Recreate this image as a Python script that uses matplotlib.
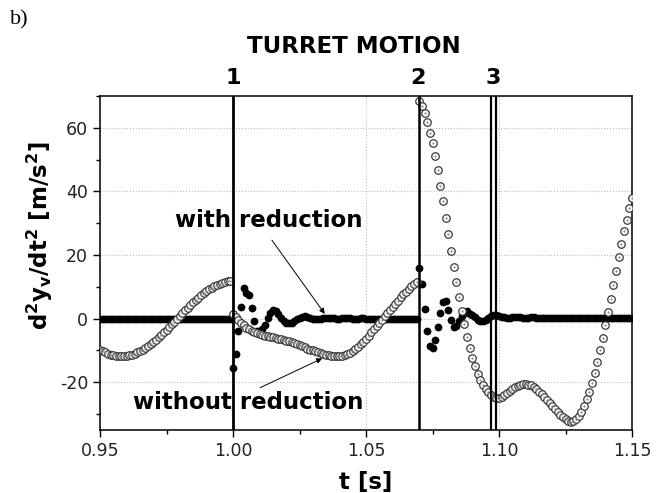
import matplotlib
matplotlib.use('Agg')
import matplotlib.pyplot as plt
import matplotlib.transforms as mtransforms
from matplotlib.ticker import MultipleLocator, FormatStrFormatter
import numpy as np

# sampling of both series (1 ms)
T_START = 0.950
DT = 0.001

# open circles: without reduction, 0.950 ... 1.150 s
without_red = [
    -9.7, -10.2, -10.6, -11.0, -11.3, -11.5, -11.7, -11.8, -11.8, -11.8,
    -11.7, -11.5, -11.3, -11.0, -10.6, -10.2, -9.7, -9.2, -8.6, -8.0,
    -7.4, -6.6, -5.9, -5.1, -4.3, -3.5, -2.6, -1.8, -0.9, 0.0,
    0.9, 1.8, 2.6, 3.5, 4.3, 5.1, 5.9, 6.6, 7.4, 8.0,
    8.6, 9.2, 9.7, 10.2, 10.6, 11.0, 11.3, 11.5, 11.7, 11.8,
    # 1.000
    1.5, 0.5, -0.5, -1.4, -2.1, -2.8, -3.4, -3.9, -4.3, -4.6,
    -4.9, -5.1, -5.3, -5.5, -5.7, -5.9, -6.1, -6.3, -6.5, -6.7,
    -6.9, -7.1, -7.4, -7.7, -8.0, -8.3, -8.7, -9.0, -9.4, -9.7,
    -10.0, -10.3, -10.6, -10.9, -11.1, -11.3, -11.5, -11.6, -11.7, -11.7,
    -11.7, -11.6, -11.4, -11.1, -10.7, -10.2, -9.6, -8.9, -8.1, -7.2,
    -6.3, -5.3, -4.3, -3.3, -2.3, -1.3, -0.3, 0.7, 1.7, 2.7,
    3.7, 4.7, 5.7, 6.7, 7.6, 8.5, 9.4, 10.2, 11.0, 11.6,
    # 1.070
    68.4, 66.9, 64.8, 61.9, 58.5, 55.1, 51.0, 46.6, 41.7, 36.9,
    31.8, 26.6, 21.4, 16.3, 11.5, 6.8, 2.3, -1.8, -5.7, -9.3,
    -12.4, -15.0, -17.3, -19.2, -20.8, -22.1, -23.2, -24.0, -24.6, -24.9,
    -24.8, -24.5, -24.0, -23.4, -22.8, -22.2, -21.6, -21.1, -20.8, -20.6,
    -20.6, -20.7, -21.0, -21.5, -22.2, -23.0, -23.8, -24.6, -25.6, -26.6,
    -27.6, -28.5, -29.4, -30.3, -31.0, -31.6, -32.1, -32.4, -32.1, -31.5,
    -30.5, -29.2, -27.5, -25.4, -23.0, -20.2, -17.1, -13.7, -10.0, -6.0,
    -1.9, 2.0, 6.3, 10.6, 15.1, 19.3, 23.4, 27.5, 31.1, 34.8,
    37.9,
]

# filled dots: with reduction, 0.950 ... 1.150 s
with_red = [0.0] * 50 + [
    # 1.000
    -15.4, -11.2, -3.8, 3.6, 9.6, 8.0, 7.5, 3.3, -0.8, -4.0,
    -4.3, -3.2, -1.9, 0.2, 1.8, 2.8, 2.5, 1.5, 0.2, -0.8,
    -1.3, -1.5, -1.3, -0.8, -0.2, 0.3, 0.6, 0.7, 0.5, 0.2,
    0.0, -0.1, -0.1, 0.0, 0.2, 0.3, 0.3, 0.2,
    0.1, 0.0, 0.0, 0.1, 0.2, 0.2, 0.1, 0.0, 0.0, 0.0,
    0.1, 0.1, 0.0, 0.0, 0.0, -0.1, -0.1, 0.0, 0.0, 0.0,
    0.0, 0.0, 0.0, 0.0, 0.0, 0.0, 0.0, 0.0, 0.0, 0.0,
    0.0, 0.0,
    # 1.070
    15.8, 10.9, 3.0, -3.8, -8.6, -9.2, -6.6, -2.6, 1.8, 5.3,
    5.6, 2.8, -0.3, -2.6, -2.2, -0.8, 0.8, 1.8, 2.3, 1.6,
    1.2, 0.4, -0.3, -0.7, -0.8, -0.4, 0.2, 0.7, 1.0, 1.1,
    0.9, 0.6,
    0.4, 0.3, 0.3, 0.4, 0.5, 0.5, 0.4, 0.3, 0.3, 0.3,
    0.4, 0.4, 0.3, 0.3, 0.2, 0.2, 0.2, 0.2, 0.2, 0.2,
    0.2, 0.2, 0.2, 0.2, 0.2, 0.2, 0.2, 0.2, 0.2, 0.2,
    0.2, 0.2, 0.2, 0.2, 0.2, 0.2, 0.2, 0.2, 0.2, 0.2,
    0.2, 0.2, 0.2, 0.2, 0.2, 0.2, 0.2, 0.2, 0.2,
]

# turret motion events
event_lines = [1.000, 1.070, 1.097, 1.099]
event_labels = ['1', '2', '3']
event_label_x = [1.000, 1.0695, 1.098]

plt.rcParams['axes.unicode_minus'] = False

t = T_START + DT * np.arange(len(without_red))

fig = plt.figure(figsize=(6.65, 4.93), dpi=100)
ax = fig.add_axes([0.1504, 0.1278, 0.800, 0.6775])

ax.plot(t, with_red, 'o', color='black', ms=5.6, mew=0, zorder=3)
ax.plot(t, without_red, 'o', mfc='white', mec='#3a3a3a', ms=5.4, mew=0.9, zorder=4)
ax.plot(t, without_red, '.', color='#888888', ms=1.2, zorder=5)

for xv, lw in zip(event_lines, [2.0, 1.8, 1.6, 1.6]):
    ax.axvline(xv, color='black', lw=lw, zorder=6)

trans = mtransforms.blended_transform_factory(ax.transData, ax.transAxes)
for xv, lab in zip(event_label_x, event_labels):
    ax.text(xv, 1.025, lab, transform=trans, ha='center', va='bottom',
            fontsize=16, fontweight='bold')

ax.set_xlim(0.95, 1.15)
ax.set_ylim(-35, 70)
ax.xaxis.set_major_locator(MultipleLocator(0.05))
ax.xaxis.set_minor_locator(MultipleLocator(0.025))
ax.xaxis.set_major_formatter(FormatStrFormatter('%.2f'))
ax.yaxis.set_major_locator(MultipleLocator(20))
ax.yaxis.set_minor_locator(MultipleLocator(10))
ax.tick_params(which='both', direction='out', top=False, right=False,
               labelsize=12.5, labelcolor='#222222', width=1.0)
ax.tick_params(which='major', length=5)
ax.tick_params(which='minor', length=3)
for sp in ax.spines.values():
    sp.set_linewidth(1.1)

ax.grid(which='major', color='#bdbdbd', linestyle=':', linewidth=0.8, zorder=0)

ax.set_xlabel('t [s]', fontsize=16.5, fontweight='bold')
ax.xaxis.set_label_coords(0.5, -0.156)
ax.xaxis.label.set_va('center')
ax.set_ylabel(r'$\mathbf{d^2y_v/dt^2\ [m/s^2]}$', fontsize=16.5)
ax.yaxis.set_label_coords(-0.113, 0.58)
ax.yaxis.label.set_va('center')

ax.annotate('', xy=(1.0345, 1.5), xytext=(1.0146, 24.7),
            arrowprops=dict(arrowstyle='-|>', color='black', lw=0.7,
                            mutation_scale=8, shrinkA=0, shrinkB=0), zorder=7)
ax.annotate('', xy=(1.0335, -12.5), xytext=(1.0102, -21.7),
            arrowprops=dict(arrowstyle='-|>', color='black', lw=0.7,
                            mutation_scale=8, shrinkA=0, shrinkB=0), zorder=7)
ax.text(1.0133, 30.8, 'with reduction', ha='center', va='center',
        fontsize=16.5, fontweight='bold', zorder=8)
ax.text(1.0056, -26.4, 'without reduction', ha='center', va='center',
        fontsize=16.5, fontweight='bold', zorder=8)

fig.text(0.532, 0.905, 'TURRET MOTION', ha='center', va='center',
         fontsize=16.5, fontweight='bold')
fig.text(0.015, 0.96, 'b)', ha='left', va='center', fontsize=16,
         family='Liberation Serif')

fig.savefig('out.png', dpi=100)
